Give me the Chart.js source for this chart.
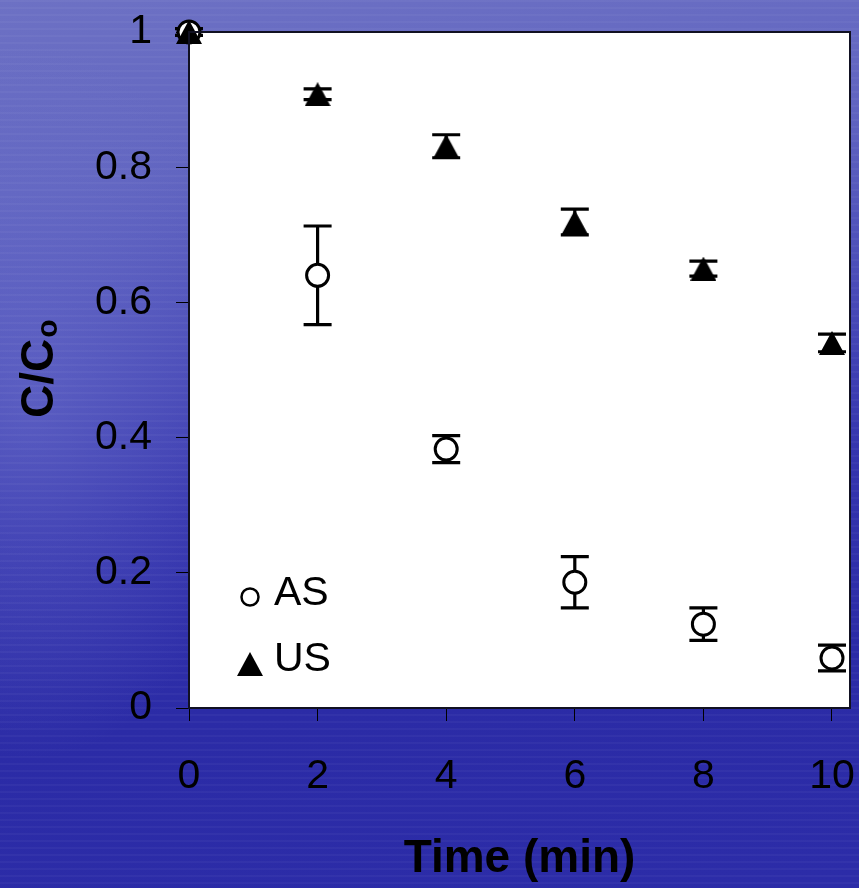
<!DOCTYPE html>
<html>
<head>
<meta charset="utf-8">
<script src="https://cdn.jsdelivr.net/npm/chart.js@4"></script>
<style>
  html, body { margin: 0; padding: 0; }
  body {
    width: 859px; height: 888px; overflow: hidden;
    background:
      repeating-linear-gradient(180deg, rgba(255,255,255,0.035) 0px, rgba(255,255,255,0.035) 2px, rgba(0,0,0,0) 2px, rgba(0,0,0,0) 7px),
      radial-gradient(ellipse 230px 360px at 30px 400px, rgba(120,125,210,0.4), rgba(120,125,210,0) 100%),
      linear-gradient(174deg, #6d71c4 0%, #6064c0 20%, #4a4cb8 38%, #3535ae 55%, #2b2ba6 75%, #2c2ca8 100%);
  }
  #wrap { position: absolute; left: 0; top: 0; width: 859px; height: 888px; overflow: hidden; }
  canvas { display: block; }
</style>
</head>
<body>
<div id="wrap"><canvas id="grafico" width="864" height="888"></canvas></div>
<script>
// Dados
const tempos = [0, 2, 4, 6, 8, 10];
const valoresAS = [1, 0.64, 0.383, 0.186, 0.124, 0.074];
const errosAS = [0, 0.073, 0.02, 0.038, 0.024, 0.019];
const valoresUS = [1, 0.908, 0.831, 0.719, 0.65, 0.54];
const errosUS = [0.005, 0.008, 0.017, 0.019, 0.011, 0.013];
const ticksX = [0, 2, 4, 6, 8, 10];
const ticksY = [0, 0.2, 0.4, 0.6, 0.8, 1];
const nomes = ['AS', 'US'];

// triângulo preenchido como imagem, centrado no ponto
function fazTriangulo(w, h) {
    const c = document.createElement('canvas');
    c.width = w; c.height = h;
    const g = c.getContext('2d');
    g.fillStyle = '#000';
    g.beginPath();
    g.moveTo(w / 2, 0);
    g.lineTo(w, h);
    g.lineTo(0, h);
    g.closePath();
    g.fill();
    return c;
}
const triangulo = fazTriangulo(26, 24);

const fundoBranco = {
    id: 'fundoBranco',
    beforeDraw(chart) {
        const a = chart.chartArea, ctx = chart.ctx;
        ctx.save();
        ctx.fillStyle = '#ffffff';
        ctx.fillRect(a.left, a.top, a.right - a.left, a.bottom - a.top);
        ctx.restore();
    },
    afterDraw(chart) {
        const a = chart.chartArea, ctx = chart.ctx;
        ctx.save();
        ctx.strokeStyle = '#111122';
        ctx.lineWidth = 2;
        ctx.strokeRect(a.left, a.top, a.right - a.left, a.bottom - a.top);
        ctx.restore();
    }
};

const barrasErro = {
    id: 'barrasErro',
    beforeDatasetsDraw(chart) {
        const ctx = chart.ctx, sx = chart.scales.x, sy = chart.scales.y;
        const series = [[valoresAS, errosAS], [valoresUS, errosUS]];
        ctx.save();
        ctx.strokeStyle = '#000';
        ctx.lineWidth = 3.2;
        series.forEach(([vals, errs]) => {
            vals.forEach((v, i) => {
                if (!errs[i]) return;
                const x = sx.getPixelForValue(tempos[i]);
                const y1 = sy.getPixelForValue(v + errs[i]);
                const y2 = sy.getPixelForValue(v - errs[i]);
                ctx.beginPath();
                ctx.moveTo(x, y1); ctx.lineTo(x, y2);
                ctx.moveTo(x - 14, y1); ctx.lineTo(x + 14, y1);
                ctx.moveTo(x - 14, y2); ctx.lineTo(x + 14, y2);
                ctx.stroke();
            });
        });
        ctx.restore();
    }
};

const legendaETitulo = {
    id: 'legendaETitulo',
    afterDraw(chart) {
        const ctx = chart.ctx;
        ctx.save();
        // legenda dentro da área
        ctx.strokeStyle = '#000';
        ctx.lineWidth = 2.5;
        ctx.beginPath();
        ctx.arc(250, 597, 8.5, 0, Math.PI * 2);
        ctx.stroke();
        ctx.drawImage(triangulo, 237, 652);
        ctx.fillStyle = '#000';
        ctx.font = '41px "Liberation Sans", Arial, sans-serif';
        ctx.textBaseline = 'middle';
        ctx.textAlign = 'left';
        ctx.fillText(nomes[0], 274, 594);
        ctx.fillText(nomes[1], 274, 660);
        // título do eixo y com subscrito
        ctx.translate(53, 418);
        ctx.rotate(-Math.PI / 2);
        ctx.textBaseline = 'alphabetic';
        ctx.font = 'bold 46px "Liberation Sans", Arial, sans-serif';
        ctx.fillText('C/C', 0, 0);
        const w = ctx.measureText('C/C').width;
        ctx.font = 'bold 30px "Liberation Sans", Arial, sans-serif';
        ctx.fillText('o', w + 1, 4);
        ctx.restore();
    }
};

function semMargens(s) {
    s.paddingTop = 0; s.paddingBottom = 0;
    s.paddingLeft = 0; s.paddingRight = 0;
}

const ctx1 = document.getElementById('grafico').getContext('2d');
const chart1 = new Chart(ctx1, {
    type: 'scatter',
    data: {
        datasets: [{
            label: nomes[0],
            data: tempos.map((t, i) => ({ x: t, y: valoresAS[i] })),
            pointStyle: 'circle',
            pointRadius: 11,
            pointBackgroundColor: '#ffffff',
            pointBorderColor: '#000000',
            pointBorderWidth: 3,
            order: 1
        }, {
            label: nomes[1],
            data: tempos.map((t, i) => ({ x: t, y: valoresUS[i] })),
            pointStyle: triangulo,
            pointRadius: 13,
            order: 0
        }]
    },
    options: {
        responsive: false,
        animation: false,
        devicePixelRatio: 1,
        clip: false,
        layout: { padding: { top: 32, right: 5, left: 0, bottom: 0 } },
        plugins: { legend: { display: false }, tooltip: { enabled: false } },
        scales: {
            x: {
                type: 'linear',
                min: 0,
                max: 10.28,
                afterBuildTicks: (s) => { s.ticks = ticksX.map(v => ({ value: v })); },
                afterFit: (s) => { s.height = 180; semMargens(s); },
                grid: { drawOnChartArea: false, tickLength: 13, color: '#000', tickWidth: 1 },
                border: { display: false },
                ticks: {
                    color: '#000',
                    padding: 31,
                    maxRotation: 0,
                    callback: (v) => String(v),
                    font: { family: '"Liberation Sans", Arial, sans-serif', size: 41 }
                },
                title: {
                    display: true,
                    text: 'Time (min)',
                    color: '#000',
                    padding: { top: 0, bottom: 1 },
                    font: { family: '"Liberation Sans", Arial, sans-serif', size: 46, weight: 'bold' }
                }
            },
            y: {
                min: 0,
                max: 1,
                afterBuildTicks: (s) => { s.ticks = ticksY.map(v => ({ value: v })); },
                afterFit: (s) => { s.width = 189; semMargens(s); },
                grid: { drawOnChartArea: false, tickLength: 13, color: '#000', tickWidth: 1 },
                border: { display: false },
                ticks: {
                    color: '#000',
                    padding: 24,
                    callback: (v) => String(v),
                    font: { family: '"Liberation Sans", Arial, sans-serif', size: 41 }
                }
            }
        }
    },
    plugins: [fundoBranco, barrasErro, legendaETitulo]
});
</script>
</body>
</html>
